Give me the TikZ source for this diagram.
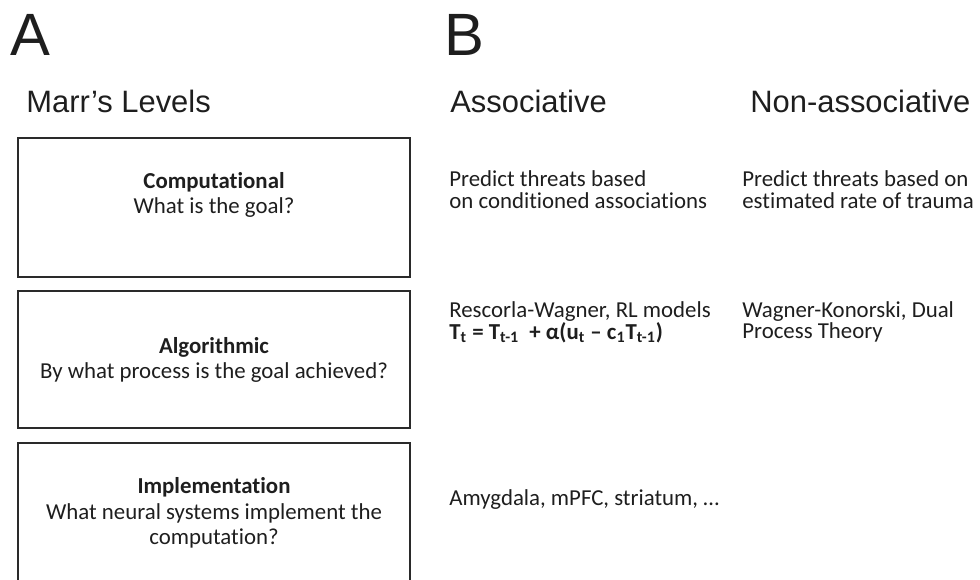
\documentclass[tikz,border=0pt]{standalone}
\usepackage{fontspec}
\setmainfont{Carlito}[Ligatures={NoCommon}]
\newfontfamily\headfont{Liberation Sans}
\usepackage{tikz}
\usetikzlibrary{positioning}
\usepackage{xcolor}
\definecolor{inkcolor}{HTML}{1E1E1E}
\definecolor{framecolor}{HTML}{2A2A2A}

\begin{document}
\begin{tikzpicture}[x=0.02cm, y=-0.02cm,
    panel/.style={font=\headfont\fontsize{34}{34}\selectfont, text=inkcolor, inner sep=0pt, anchor=base west},
    header/.style={font=\headfont\fontsize{17.6}{20}\selectfont, text=inkcolor, inner sep=0pt, anchor=base west},
    level/.style={draw=framecolor, line width=1pt, minimum width=7.84cm, outer sep=0pt},
    leveltext/.style={font=\fontsize{13}{14.6}\selectfont, text=inkcolor, align=center, inner sep=0pt},
    celltext/.style={font=\fontsize{13}{12.4}\selectfont, text=inkcolor, align=left, inner sep=0pt, anchor=west},
]
\useasboundingbox (0,0) rectangle (980,579);
\clip (0,0) rectangle (980,579);

% Panel letters and headers
\node[panel] (pa) at (10,55) {A};
\node[panel] (pb) at (444,55) {B};
\node[header] (marr) at (26,112) {Marr’s Levels};
\node[header] (assoc) at (450,112) {Associative};
\node[header] (nonassoc) at (750,112) {Non-associative};

% Marr's levels
\node[level, minimum height=2.78cm] (comp) at (214,207.5) {};
\node[level, minimum height=2.74cm] (algo) at (214,359.5) {};
\node[level, minimum height=3cm] (impl) at (214,518) {};

\node[leveltext] (comptext) at (214,195) {\textbf{Computational}\\What is the goal?};
\node[leveltext] (algotext) at (214,360) {\textbf{Algorithmic}\\By what process is the goal achieved?};
\node[leveltext] (impltext) at (214,513) {\textbf{Implementation}\\What neural systems implement the\\computation?};

% Associative column
\node[celltext] (assoccomp) at (449,190) {Predict threats based\\on conditioned associations};
\node[celltext] (assocalgo) at (449,322) {Rescorla-Wagner, RL models\\
    \textbf{T\textsubscript{t} = T\textsubscript{t-1}\ \ + α(u\textsubscript{t} – c\textsubscript{1}T\textsubscript{t-1})}};
\node[celltext] (associmpl) at (449,500) {Amygdala, mPFC, striatum, …};

% Non-associative column
\node[celltext] (nonassoccomp) at (742,190) {Predict threats based on\\estimated rate of trauma};
\node[celltext] (nonassocalgo) at (742,322) {Wagner-Konorski, Dual\\Process Theory};

\end{tikzpicture}
\end{document}
